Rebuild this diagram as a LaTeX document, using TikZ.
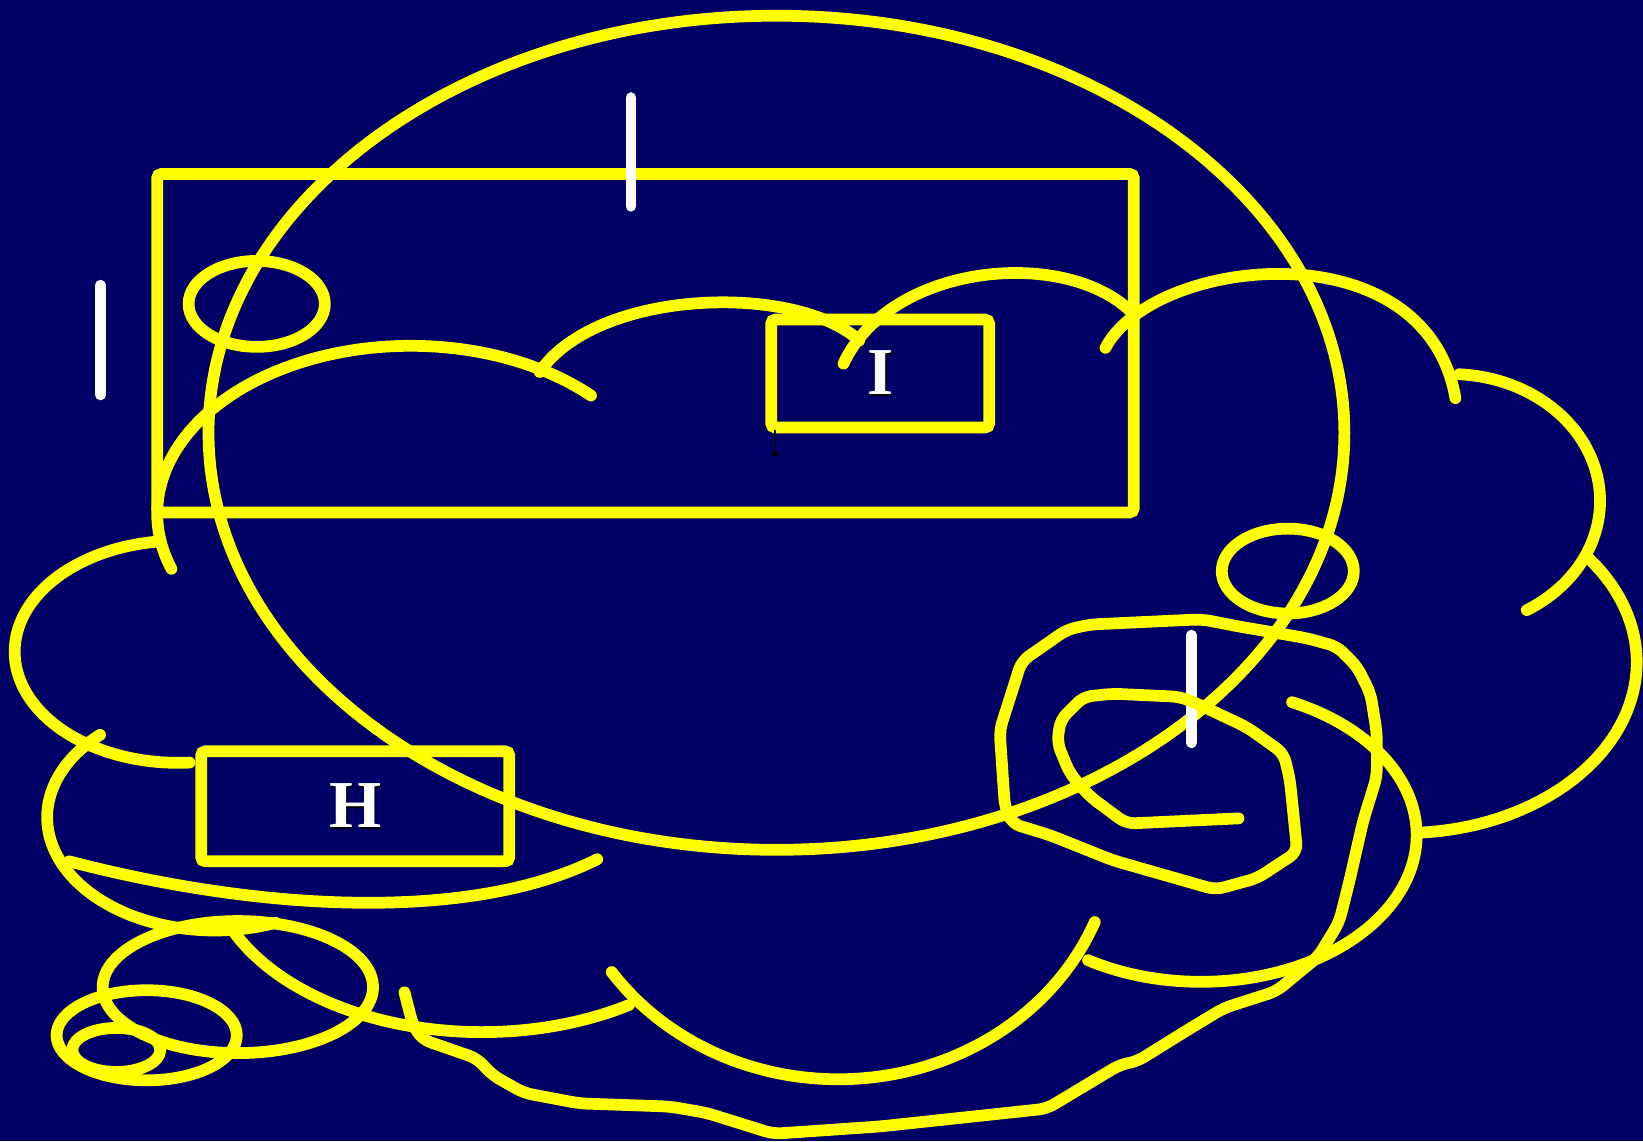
\documentclass[tikz,border=0pt]{standalone}
\usepackage{fontspec}
\setmainfont{Liberation Serif}
\usetikzlibrary{shapes.geometric}
\definecolor{bgnavy}{RGB}{0,0,102}
\definecolor{yl}{RGB}{255,255,0}
\newcommand\shadowlbl[1]{\makebox[0pt][l]{\hspace{0.8pt}\raisebox{-0.8pt}{\textcolor{black}{#1}}}\textcolor{white}{#1}}
\begin{document}
\begin{tikzpicture}[x=0.5pt,y=-0.5pt,
  yline/.style={draw=yl, line width=5.6pt, line cap=round, line join=round},
  wline/.style={draw=white, line width=5pt, line cap=round},
  ybox/.style={draw=yl, line width=5.6pt, rectangle, rounded corners=2pt, inner sep=0pt, outer sep=0pt},
  lbl/.style={font=\fontsize{32}{32}\selectfont\bfseries}]
\fill[bgnavy] (0,0) rectangle (1568,1089);
\useasboundingbox (0,0) rectangle (1568,1089);

% big ellipse
\coordinate (bigc) at (741,413);
\draw[yline] (bigc) ellipse [x radius=542, y radius=398];

% large rectangle
\node[ybox, minimum width=466pt, minimum height=161.5pt] (bigrect) at (616,327.5) {};

% small ellipses
\coordinate (ell1) at (245,290);
\draw[yline] (ell1) ellipse [x radius=65, y radius=41];
\coordinate (ell2) at (1229,545);
\draw[yline] (ell2) ellipse [x radius=63, y radius=40.5];

% bottom-left ellipses
\coordinate (ell3) at (227,942);
\draw[yline] (ell3) ellipse [x radius=129, y radius=63];
\coordinate (ell4) at (140,988);
\draw[yline] (ell4) ellipse [x radius=86, y radius=43];
\coordinate (ell5) at (111,1002);
\draw[yline] (ell5) ellipse [x radius=42, y radius=21];

% cloud lobes (y-down parametric angles)
\draw[yline] plot[domain=160.7:315.3, samples=90, variable=\t] ({392+242*cos(\t)},{490+160*sin(\t)});
\draw[yline] plot[domain=86:262.6, samples=90, variable=\t] ({170+156*cos(\t)},{622+106*sin(\t)});
\draw[yline] plot[domain=68.7:226.8, samples=90, variable=\t] ({205+160*cos(\t)},{780+108*sin(\t)});
\draw[yline] plot[domain=57.5:156.8, samples=90, variable=\t] ({460+261*cos(\t)},{820+165*sin(\t)});
\draw[yline] plot[domain=22:145, samples=90, variable=\t] ({800+264*cos(\t)},{790+240*sin(\t)});
\draw[yline] plot[domain=-65:121.5, samples=90, variable=\t] ({1146+206*cos(\t)},{797+140*sin(\t)});
\draw[yline] plot[domain=-38:86, samples=90, variable=\t] ({1340+222*cos(\t)},{632+163*sin(\t)});
\draw[yline] plot[domain=-87:59.5, samples=90, variable=\t] ({1385+142*cos(\t)},{478+121*sin(\t)});

\coordinate (a1) at (515,355);
\coordinate (a2) at (820,325);
\draw[yline] (a1) .. controls (570,275) and (760,270) .. (a2);
\coordinate (b1) at (805,347);
\coordinate (b2) at (1082,300);
\draw[yline] (b1) .. controls (850,250) and (1020,235) .. (b2);
\coordinate (c1) at (1055,332);
\coordinate (c2) at (1389,380);
\draw[yline] (c1) .. controls (1100,245) and (1360,215) .. (c2);
\coordinate (d1) at (66,822);
\coordinate (d2) at (570,820);
\draw[yline] (d1) .. controls (250,870) and (450,880) .. (d2);

% white bars
\coordinate (w1a) at (602,93);  \coordinate (w1b) at (602,197);
\coordinate (w2a) at (96,272);  \coordinate (w2b) at (96,377);
\coordinate (w3a) at (1137,606); \coordinate (w3b) at (1137,709);
\draw[wline] (w1a) -- (w1b);
\draw[wline] (w2a) -- (w2b);
\draw[wline] (w3a) -- (w3b);

% long freehand path
\draw[yline, rounded corners=4pt] (386,947) -- (394,978) -- (403,992) -- (455,1010) -- (470,1026) -- (500,1043) -- (553,1053) -- (639,1056) -- (674,1062) -- (738,1082) -- (840,1075) -- (999,1058) -- (1069,1016) -- (1085,1013) -- (1130,985) -- (1168,962) -- (1218,946) -- (1258,913) -- (1278,880) -- (1288,840) -- (1301,783) -- (1314,741) -- (1314,700) -- (1308,662) -- (1295,636) -- (1276,617) -- (1247,609) -- (1183,598) -- (1147,591) -- (1040,596) -- (1018,601) -- (975,631) -- (954,697) -- (959,770) -- (966,786) -- (1002,797) -- (1062,821) -- (1160,849) -- (1200,838) -- (1238,813) -- (1231,744) -- (1225,719) -- (1190,694) -- (1139,670) -- (1126,665) -- (1062,662) -- (1034,665) -- (1012,687) -- (1009,709) -- (1021,738) -- (1040,760) -- (1075,786) -- (1182,781);

% boxes with labels
\node[ybox, minimum width=104pt, minimum height=51.5pt, lbl] (boxI) at (840,356.5) {\shadowlbl{I}};
\node[ybox, minimum width=147pt, minimum height=52.5pt, lbl] (boxH) at (339,769.5) {\shadowlbl{H}};

% small black marker
\coordinate (mk1) at (740,410);
\coordinate (mk2) at (740,427);
\draw[black, line width=1pt] (mk1) -- (mk2);
\fill[black] (740,433) circle [radius=3];
\end{tikzpicture}
\end{document}
